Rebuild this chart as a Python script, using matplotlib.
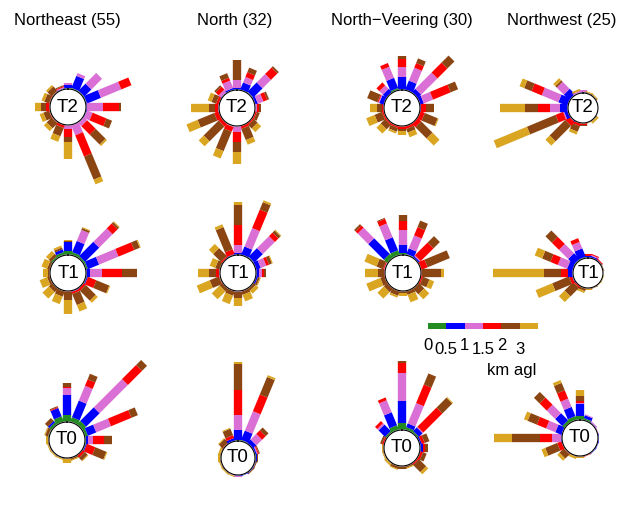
import numpy as np
import matplotlib
matplotlib.use('Agg')
import matplotlib.pyplot as plt

plt.rcParams['font.family'] = ['Liberation Sans', 'DejaVu Sans']

regimes = ['Northeast (55)', 'North (32)', 'North\u2212Veering (30)', 'Northwest (25)']
times = ['T2', 'T1', 'T0']
layer_labels = ['0', '0.5', '1', '1.5', '2', '3']
layer_colors = ['#228B22', '#0000FF', '#DA70D6', '#FF0000', '#8B4513', '#DAA520']
# 16 directions, N first, clockwise
directions = np.arange(16) * 22.5

# segment lengths per direction: [0-0.5, 0.5-1, 1-1.5, 1.5-2, 2-3, >3 km]
ne_t2 = [[1,3,2,0,0,0],[1,13,3,0,0,0],[1,10,15,0,0,0],[1,15,22,11,0,0],
         [0,1,16,16,2,0],[0,1,6,15,6,0],[0,0,5,12,14,2],[0,0,11,23,25,5],
         [0,0,4,8,5,17],[0,0,0,3,9,6],[0,0,0,1,7,4],[0,0,0,1,6,4],
         [0,0,0,4,5,6],[0,0,0,1,5,3],[0,0,0,1,6,2],[0,1,1,1,1,0]]
ne_t1 = [[4,9,0,0,1,1],[3,12,12,0,2,1],[2,20,19,7,2,1],[2,12,21,17,6,1],
         [0,4,12,20,15,0],[1,1,0,9,14,1],[0,0,0,3,14,3],[0,1,0,2,12,7],
         [0,0,0,1,8,14],[0,0,0,0,6,8],[0,0,0,0,5,9],[0,0,0,0,3,8],
         [0,0,0,0,2,5],[0,0,0,0,3,6],[2,0,0,0,3,4],[3,3,0,0,2,2]]
ne_t0 = [[7,20,7,1,4,0],[5,18,16,7,6,0],[5,19,40,20,7,0],[3,9,16,22,7,0],
         [1,2,5,11,8,0],[1,1,0,9,12,1],[0,0,0,3,4,1],[0,0,0,0,2,1],
         [0,0,0,0,1,4],[0,0,0,0,1,1],[0,0,0,0,1,1],[0,0,0,0,1,1],
         [0,0,0,0,1,2],[1,0,0,0,3,1],[3,2,0,0,4,0],[6,9,0,1,1,0]]
n_t2 = [[0,2,8,0,20,0],[0,8,6,5,5,0],[1,13,12,9,2,0],[0,3,6,4,2,0],
        [0,0,2,2,2,0],[0,0,0,2,3,0],[0,0,0,2,5,5],[0,0,0,3,12,5],
        [0,0,6,10,10,12],[0,0,1,5,21,8],[0,0,0,4,21,7],[0,0,0,5,18,12],
        [0,0,1,3,6,18],[0,0,0,3,5,4],[0,1,3,4,2,0],[0,2,8,3,5,0]]
n_t1 = [[0,2,8,20,20,3],[0,9,20,20,8,2],[1,12,17,5,3,1],[0,5,6,3,3,1],
        [0,3,3,2,2,0],[0,2,0,0,2,1],[0,0,0,0,3,4],[0,0,0,0,4,7],
        [0,0,1,0,6,8],[0,0,0,0,5,9],[0,0,0,0,4,11],[0,0,0,1,10,14],
        [0,0,1,3,7,11],[0,0,0,0,5,6],[0,0,0,2,11,6],[0,1,0,5,24,3]]
n_t0 = [[1,10,15,25,26,2],[1,10,21,18,19,2],[0,5,8,5,4,0],[0,2,1,1,1,0],
        [1,1,0,0,1,0],[0,1,0,0,1,0],[0,1,0,0,1,0],[0,1,0,0,0,0],
        [0,1,1,0,0,0],[0,0,1,0,0,1],[0,0,0,0,1,1],[0,0,0,0,1,1],
        [0,0,0,0,1,2],[0,0,0,0,1,2],[0,0,0,1,5,1],[0,3,0,3,7,1]]
nv_t2 = [[0,13,10,8,3,0],[0,10,14,5,5,0],[0,5,23,14,10,0],[0,4,10,19,8,0],
         [0,1,0,5,8,0],[0,0,0,5,14,1],[0,0,0,5,16,10],[0,0,0,3,4,5],
         [0,0,0,3,2,4],[0,0,0,2,4,2],[0,0,0,2,6,6],[0,0,0,2,8,9],
         [0,0,0,2,5,7],[0,5,1,1,11,0],[0,5,5,4,0,0],[2,11,12,4,0,0]]
nv_t1 = [[2,8,15,9,6,0],[1,6,14,9,7,0],[0,2,1,18,9,0],[0,0,0,7,24,0],
         [0,0,0,1,19,3],[0,0,0,2,7,5],[0,0,0,0,8,7],[0,0,0,0,4,8],
         [0,0,0,0,2,3],[0,0,0,0,5,2],[0,0,0,0,5,9],[0,0,0,0,5,15],
         [0,0,0,1,6,13],[0,0,1,1,7,13],[5,22,15,3,2,0],[5,14,15,5,1,0]]
nv_t0 = [[7,22,28,10,2,0],[3,4,22,20,12,0],[2,5,1,27,14,1],[0,2,0,3,5,0],
         [0,3,0,2,3,0],[0,0,0,3,4,0],[0,0,0,2,10,3],[0,0,0,0,2,1],
         [0,0,0,0,3,0],[0,0,0,0,3,1],[0,0,0,0,1,2],[0,0,0,0,1,1],
         [0,0,0,0,1,1],[0,0,0,2,2,0],[2,9,2,3,0,0],[5,14,13,3,0,0]]
nw_t2 = [[0,1,2,0,0,0],[0,0,0,0,1,1],[0,0,0,0,1,1],[0,0,0,0,0,0],
         [0,0,0,0,0,0],[0,0,0,0,0,0],[0,0,0,0,1,2],[0,0,0,0,0,1],
         [0,0,0,2,1,0],[0,0,0,3,6,3],[0,1,0,5,22,6],[0,4,1,8,31,36],
         [0,8,10,12,13,25],[0,10,18,11,8,5],[0,8,10,0,2,3],[0,0,2,0,0,2]]
nw_t1 = [[0,2,0,2,0,0],[0,2,1,1,0,0],[0,1,0,1,0,0],[0,0,0,0,1,0],
         [0,0,0,0,0,0],[0,0,0,0,0,1],[0,0,0,0,0,1],[0,0,0,0,1,0],
         [0,0,0,0,1,1],[0,0,0,0,3,2],[0,0,0,2,12,8],[0,1,0,3,18,18],
         [0,5,0,7,17,51],[0,6,10,8,9,8],[1,8,13,10,9,0],[1,9,7,4,0,0]]
nw_t0 = [[4,12,1,2,5,6],[2,3,1,0,0,0],[0,1,1,0,0,0],[0,0,1,0,0,0],
         [0,1,0,0,0,0],[0,1,0,0,0,0],[0,1,0,0,0,0],[0,0,0,1,0,0],
         [0,0,0,0,1,1],[0,0,0,0,1,2],[0,0,0,1,6,3],[0,0,0,5,13,4],
         [0,1,9,12,28,18],[0,7,10,10,10,4],[3,10,12,10,8,0],[4,10,9,9,8,3]]

panels = [[ne_t2, n_t2, nv_t2, nw_t2],
          [ne_t1, n_t1, nv_t1, nw_t1],
          [ne_t0, n_t0, nv_t0, nw_t0]]

# layout in pixels (from top-left)
W, H = 630, 508
RMAX = 120
centers = [[(68, 107), (237, 108), (402, 108), (583, 108)],
           [(68, 273), (238, 273), (403, 273), (588, 273)],
           [(67, 440), (238, 458), (402, 448), (580, 438)]]
radii = [[18, 18, 18, 15],
         [18, 18, 18, 15],
         [18, 17, 18, 18]]
title_x = [67, 235, 402, 562]

fig = plt.figure(figsize=(W / 100, H / 100), dpi=100)


def rose(ax, segs, r0, label):
    ax.set_theta_zero_location('N')
    ax.set_theta_direction(-1)
    ax.set_ylim(0, RMAX)
    ax.axis('off')
    th = np.deg2rad(directions)
    for i in range(16):
        base = r0
        for k in range(6):
            L = segs[i][k]
            if L > 0:
                ax.plot([th[i], th[i]], [base, base + L], color=layer_colors[k],
                        lw=6, solid_capstyle='butt', zorder=2)
            base += L
    t = np.linspace(0, 2 * np.pi, 200)
    ax.fill(t, np.full_like(t, r0), color='white', zorder=3)
    ax.plot(t, np.full_like(t, r0), color='black', lw=0.8, zorder=4)
    ax.text(0, 0, label, ha='center', va='center', fontsize=13.5, zorder=5)


for r in range(3):
    for c in range(4):
        cx, cy = centers[r][c]
        rect = [(cx - RMAX) / W, (H - cy - RMAX) / H, 2 * RMAX / W, 2 * RMAX / H]
        ax = fig.add_axes(rect, projection='polar')
        ax.patch.set_alpha(0)
        rose(ax, panels[r][c], radii[r][c], times[r])

for c in range(4):
    fig.text(title_x[c] / W, 1 - 20 / H, regimes[c], ha='center', va='center', fontsize=12)

# legend colour strip
lax = fig.add_axes([428 / W, 1 - 329 / H, 110 / W, 6 / H])
lax.bar(np.arange(6), np.ones(6), width=1, color=layer_colors)
lax.set_xlim(-0.5, 5.5)
lax.set_ylim(0, 1)
lax.axis('off')
for i, lab in enumerate(layer_labels):
    dy = 6.5 if i % 2 == 0 else 9.5
    lax.annotate(lab, xy=(i - 0.5, 0), xytext=(0, -dy), textcoords='offset points',
                 ha='center', va='top', fontsize=12)
fig.text(512 / W, 1 - 370 / H, 'km agl', ha='center', va='center', fontsize=12)

fig.savefig('out.png', dpi=100)
